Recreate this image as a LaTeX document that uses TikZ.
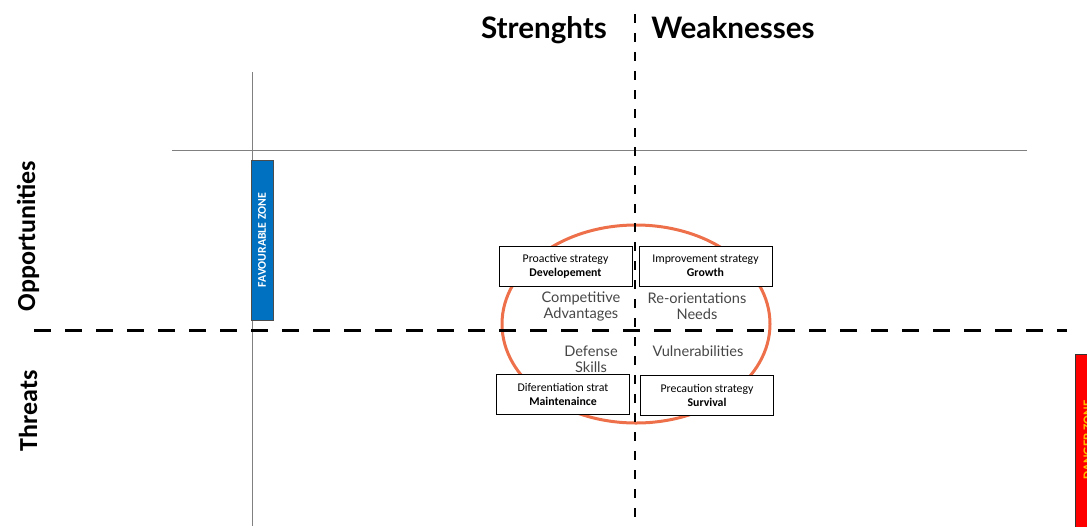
\documentclass[tikz,border=0pt]{standalone}
\usepackage{fontspec}
\setmainfont{Carlito}
\newfontfamily\gillfont{Lato}
\usetikzlibrary{positioning}
\definecolor{swotorange}{RGB}{237,112,74}
\definecolor{zoneblue}{RGB}{0,112,192}
\definecolor{zoneyellow}{RGB}{255,192,0}
\definecolor{quadtext}{RGB}{70,70,70}

\begin{document}
\begin{tikzpicture}[x=0.5pt,y=-0.5pt,
  stratbox/.style={draw,fill=white,minimum width=66.5pt,minimum height=20pt,inner sep=0pt,align=center,font=\fontsize{5.9}{7}\selectfont},
  quad/.style={align=center,text=quadtext,inner sep=0pt,font=\gillfont\fontsize{7.3}{8}\selectfont},
  head/.style={inner sep=0pt,anchor=base,font=\gillfont\bfseries\fontsize{14.8}{15}\selectfont},
  side/.style={rotate=90,inner sep=0pt,font=\bfseries\fontsize{13}{14}\selectfont}]
\useasboundingbox (0,0) rectangle (1087,526);
% axes
\draw[gray] (252,72) -- (252,526);
\draw[gray] (172,150) -- (1027,150);
% zones
\node (fav) [draw=black!70,fill=zoneblue,minimum width=11pt,minimum height=80pt,inner sep=0pt] at (262,240) {};
\node [rotate=90,text=white,font=\bfseries\fontsize{5.9}{6}\selectfont] at (fav) {FAVOURABLE ZONE};
\node (danger) [draw=black!80,fill=red,minimum width=13pt,minimum height=90pt,inner sep=0pt,anchor=north west] at (1075,354) {};
\node [rotate=90,text=zoneyellow,font=\bfseries\fontsize{6.5}{7}\selectfont] at (1088,440) {DANGER ZONE};
% circle of the matrix
\draw[swotorange,line width=1.5pt] (636,324) ellipse [x radius=134,y radius=99];
% quadrant texts
\node[quad] (comp) at (581,306) {Competitive\\Advantages};
\node[quad] (reor) at (697,306) {Re-orientations\\Needs};
\node[quad] (def) at (591,359) {Defense\\Skills};
\node[quad] (vul) at (698,351) {Vulnerabilities};
% strategies
\node[stratbox] (pro) at (565.5,266) {Proactive strategy\\\textbf{Developement}};
\node[stratbox] (imp) at (705.5,266) {Improvement strategy\\\textbf{Growth}};
\node[stratbox] (dif) at (563,394) {Diferentiation strat\\\textbf{Maintenaince}};
\node[stratbox] (pre) at (707,395.5) {Precaution strategy\\\textbf{Survival}};
% dashed separators
\draw[line width=1pt,dash pattern=on 4.5pt off 5pt] (635,14) -- (635,526);
\draw[line width=1.5pt,dash pattern=on 8.5pt off 7pt] (34,330) -- (1067,330);
% headings
\node[head] (str) at (544,38) {Strenghts};
\node[head] (weak) at (733,38) {Weaknesses};
\node[side] (opp) at (28,236) {Opportunities};
\node[side] (thr) at (28,411) {Threats};
\end{tikzpicture}
\end{document}
